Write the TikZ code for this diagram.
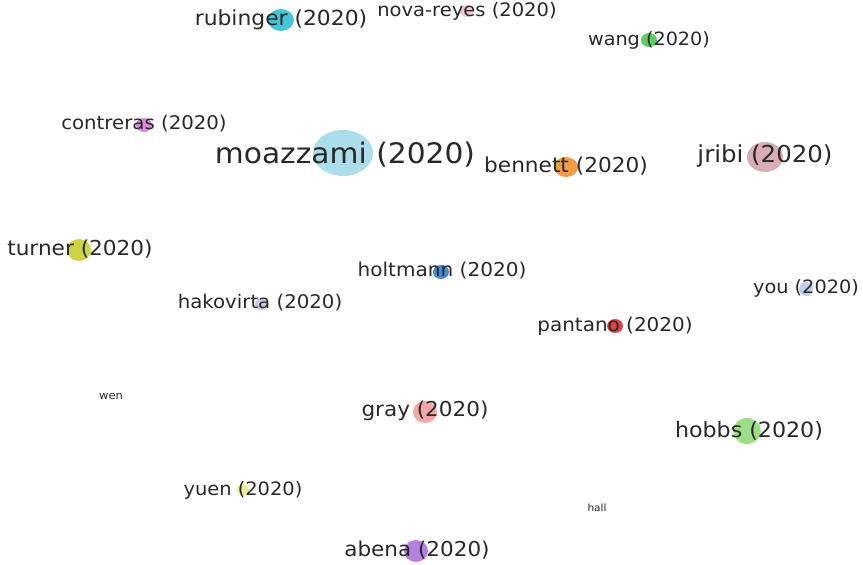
\documentclass[tikz,border=0pt]{standalone}
\usepackage{fontspec}
\setmainfont{DejaVu Sans}[FakeStretch=1.05]
\usepackage{tikz}
\usetikzlibrary{shapes.geometric}

\definecolor{cRub}{RGB}{72,196,216}
\definecolor{cNov}{RGB}{244,200,216}
\definecolor{cWan}{RGB}{96,204,96}
\definecolor{cCon}{RGB}{214,140,214}
\definecolor{cMoa}{RGB}{172,221,234}
\definecolor{cBen}{RGB}{242,156,70}
\definecolor{cJri}{RGB}{214,174,180}
\definecolor{cTur}{RGB}{204,212,70}
\definecolor{cHol}{RGB}{70,136,212}
\definecolor{cHak}{RGB}{204,200,228}
\definecolor{cYou}{RGB}{192,208,236}
\definecolor{cPan}{RGB}{222,70,70}
\definecolor{cGra}{RGB}{242,168,168}
\definecolor{cHob}{RGB}{156,222,136}
\definecolor{cYue}{RGB}{236,236,156}
\definecolor{cAbe}{RGB}{184,128,222}
\definecolor{ink}{RGB}{40,40,40}

\begin{document}
\begin{tikzpicture}[x=1pt, y=-1pt]
\tikzset{
  bubble/.style={ellipse, inner sep=0pt, draw=none},
  label text/.style={text=ink, inner sep=0pt}
}

\useasboundingbox (0,0) rectangle (863,565);

% bubbles
\foreach \n/\x/\y/\rx/\ry/\c in {
  rubinger/281/20/13/11/cRub, novareyes/467/11/7/6/cNov,
  wang/649/40/8/7/cWan, contreras/144/125/8/7/cCon,
  moazzami/343/153/30/23/cMoa, bennett/566/167/12/10/cBen,
  jribi/765/157/18/15/cJri, turner/79/250/12/11/cTur,
  holtmann/441/272/8/7/cHol, hakovirta/261/304/6/6/cHak,
  you/806/289/7/7/cYou, pantano/615/326/8/7/cPan,
  gray/425/412/12/11/cGra, hobbs/747/431/14/13/cHob,
  yuen/243/490/6/6/cYue, abena/416/551/12/11/cAbe}
  \node [bubble, fill=\c, minimum width=2*\rx, minimum height=2*\ry] (\n) at (\x,\y) {};

% labels
\foreach \n/\t/\x/\y/\fs in {
  rubinger/rubinger/281/20/20.8, novareyes/nova-reyes/467/11/18.6,
  wang/wang/649/40/18.3, contreras/contreras/144/124/18.8,
  moazzami/moazzami/345/155/28.3, bennett/bennett/566/166/20.6,
  jribi/jribi/765/156/23.3, turner/turner/80/249/20.6,
  holtmann/holtmann/442/271/19.1, hakovirta/hakovirta/260/303/18.8,
  you/you/806/288/18.4, pantano/pantano/615/326/19,
  gray/gray/425/411/20.5, hobbs/hobbs/749/431/21.1,
  yuen/yuen/243/490/18.5, abena/abena/417/550/20.5}
  \node [label text, font=\fontsize{\fs}{\fs}\selectfont] (\n-label) at (\x,\y) {\t{} (2020)};

\node [label text, font=\fontsize{11}{11}\selectfont] (wen) at (111,396) {wen};
\node [label text, font=\fontsize{10}{10}\selectfont] (hall) at (597,508) {hall};

\end{tikzpicture}
\end{document}
